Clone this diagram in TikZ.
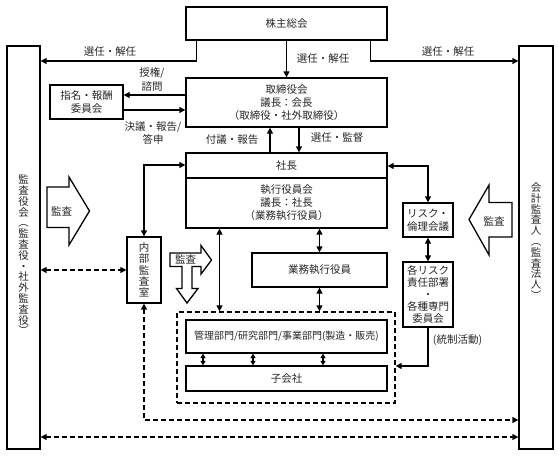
\documentclass[tikz,border=0pt]{standalone}
\usepackage{fontspec}
\setmainfont{Noto Sans CJK JP}
\usetikzlibrary{arrows.meta}
\begin{document}
\begin{tikzpicture}[x=1pt,y=-1pt, line width=1.3pt,
 box/.style={draw, inner sep=0pt, align=center, text=black!85, font=\fontsize{10.5}{13}\selectfont},
 lbl/.style={inner sep=0pt, align=center, text=black!85, font=\fontsize{10.5}{13}\selectfont},
 vtxt/.style={inner sep=0pt, align=center, text=black!85, font=\fontsize{10.5}{10.8}\selectfont},
 arr/.style={-{Triangle[length=6pt,width=6pt]}},
 darr/.style={{Triangle[length=6pt,width=6pt]}-{Triangle[length=6pt,width=6pt]}},
 sdarr/.style={{Triangle[length=4.5pt,width=5pt]}-{Triangle[length=4.5pt,width=5pt]}},
 dsh/.style={dash pattern=on 5pt off 3pt}]
\useasboundingbox (0,0) rectangle (558,456);

% boxes
\node[box, minimum width=201pt, minimum height=33pt] (kabu) at (286.5,23.5) {株主総会};
\node[box, minimum width=33pt, minimum height=403pt] (kansa) at (23.5,247.5) {};
\node[box, minimum width=34pt, minimum height=403pt] (kaikei) at (536,247.5) {};
\node[box, minimum width=201pt, minimum height=49pt] (tori) at (286.5,102.5) {取締役会\\議長：会長\\（取締役・社外取締役）};
\node[box, minimum width=73pt, minimum height=34pt] (shimei) at (86.5,102) {指名・報酬\\委員会};
\node[box, minimum width=201pt, minimum height=25pt] (shacho) at (286.5,165.5) {社長};
\node[box, minimum width=201pt, minimum height=50pt] (shikko) at (286.5,203) {執行役員会\\議長：社長\\（業務執行役員）};
\node[box, minimum width=50pt, minimum height=34pt] (risk) at (428,220) {リスク・\\倫理会議};
\node[box, minimum width=50pt, minimum height=65pt, font=\fontsize{10.5}{12}\selectfont] (kaku) at (428,294.5) {各リスク\\責任部署\\・\\各種専門\\委員会};
\node[box, minimum width=34pt, minimum height=66pt, font=\fontsize{10.5}{11.2}\selectfont] (naibu) at (144,270) {内\\部\\監\\査\\室};
\node[box, minimum width=135pt, minimum height=34pt] (gyomu) at (319.5,270) {業務執行役員};
\node[draw, dsh, inner sep=0pt, minimum width=218pt, minimum height=91pt] (dbox) at (286,357.5) {};
\node[box, minimum width=201pt, minimum height=33pt, font=\fontsize{10}{12}\selectfont] (kanri) at (286.5,336.5) {管理部門/研究部門/事業部門(製造・販売)};
\node[box, minimum width=201pt, minimum height=25pt] (ko) at (286.5,378.5) {子会社};

% vertical texts
\node[vtxt] (kansatxt) at (23.5,255) {監\\査\\役\\会\\︵\\監\\査\\役\\・\\社\\外\\監\\査\\役\\︶};
\node[vtxt] (kaikeitxt) at (536,241) {会\\計\\監\\査\\人\\︵\\監\\査\\法\\人\\︶};

% big audit arrows
\draw[fill=white] (47,187) -- (69,187) -- (69,177) -- (89.5,211) -- (69,245) -- (69,227.5) -- (47,227.5) -- cycle;
\node[lbl] (kansaL) at (61.5,211.5) {監査};
\draw[fill=white] (512,202.5) -- (489,202.5) -- (489,185) -- (469,219.5) -- (489,255) -- (489,237) -- (512,237) -- cycle;
\node[lbl] (kansaR) at (494,221) {監査};
\draw[fill=white] (170,253) -- (201,253) -- (201,245.5) -- (211.5,260) -- (201,274) -- (201,266.5) -- (192,266.5) -- (192,288.5) -- (198,288.5) -- (187,303) -- (176.5,288.5) -- (182,288.5) -- (182,266.5) -- (170,266.5) -- cycle;
\node[lbl] (kansaS) at (185.5,259.5) {監査};

% connectors
\draw[arr] ([xshift=11pt]kabu.south west) |- (kansa.east |- 0,61);
\draw[arr] ([xshift=-17pt]kabu.south east) |- (kaikei.west |- 0,61);
\draw[arr] (kabu.south) -- (tori.north);
\draw[arr] (tori.west |- 0,95) -- (shimei.east |- 0,95);
\draw[arr] (shimei.east |- 0,110) -- (tori.west |- 0,110);
\draw[arr] (shacho.north -| 270,0) -- (tori.south -| 270,0);
\draw[arr] (tori.south -| 299,0) -- (shacho.north -| 299,0);
\draw[darr] (shacho.east |- 0,166) -| (risk.north);
\draw[darr] (risk.south) -- (kaku.north);
\draw[arr] (kaku.south) |- (dbox.east |- 0,366);
\draw[darr] (shacho.west |- 0,165) -| (naibu.north);
\draw[darr, dsh] (kansa.east |- 0,270) -- (naibu.west |- 0,270);
\draw[darr] (shikko.south -| 219.5,0) -- (dbox.north -| 219.5,0);
\draw[darr] (shikko.south -| gyomu.north) -- (gyomu.north);
\draw[darr] (gyomu.south) -- (dbox.north -| gyomu.south);
\draw[sdarr] (kanri.south -| 203,0) -- (ko.north -| 203,0);
\draw[sdarr] (kanri.south -| 253,0) -- (ko.north -| 253,0);
\draw[sdarr] (kanri.south -| 323,0) -- (ko.north -| 323,0);
\draw[darr, dsh] (naibu.south) |- (kaikei.west |- 0,420);
\draw[darr, dsh] (kansa.east |- 0,437) -- (kaikei.west |- 0,437);

% labels
\node[lbl] (l1) at (110,52) {選任・解任};
\node[lbl] (l2) at (448,52) {選任・解任};
\node[lbl] (l3) at (323,59) {選任・解任};
\node[lbl, font=\fontsize{10.5}{14}\selectfont] (l4) at (152,79) {授権/\\諮問};
\node[lbl, font=\fontsize{10.5}{12.5}\selectfont] (l5) at (153,133) {決議・報告/\\答申};
\node[lbl] (l6) at (232,140) {付議・報告};
\node[lbl] (l7) at (337,138) {選任・監督};
\node[lbl] (l8) at (457.5,340) {(統制活動)};
\end{tikzpicture}
\end{document}
